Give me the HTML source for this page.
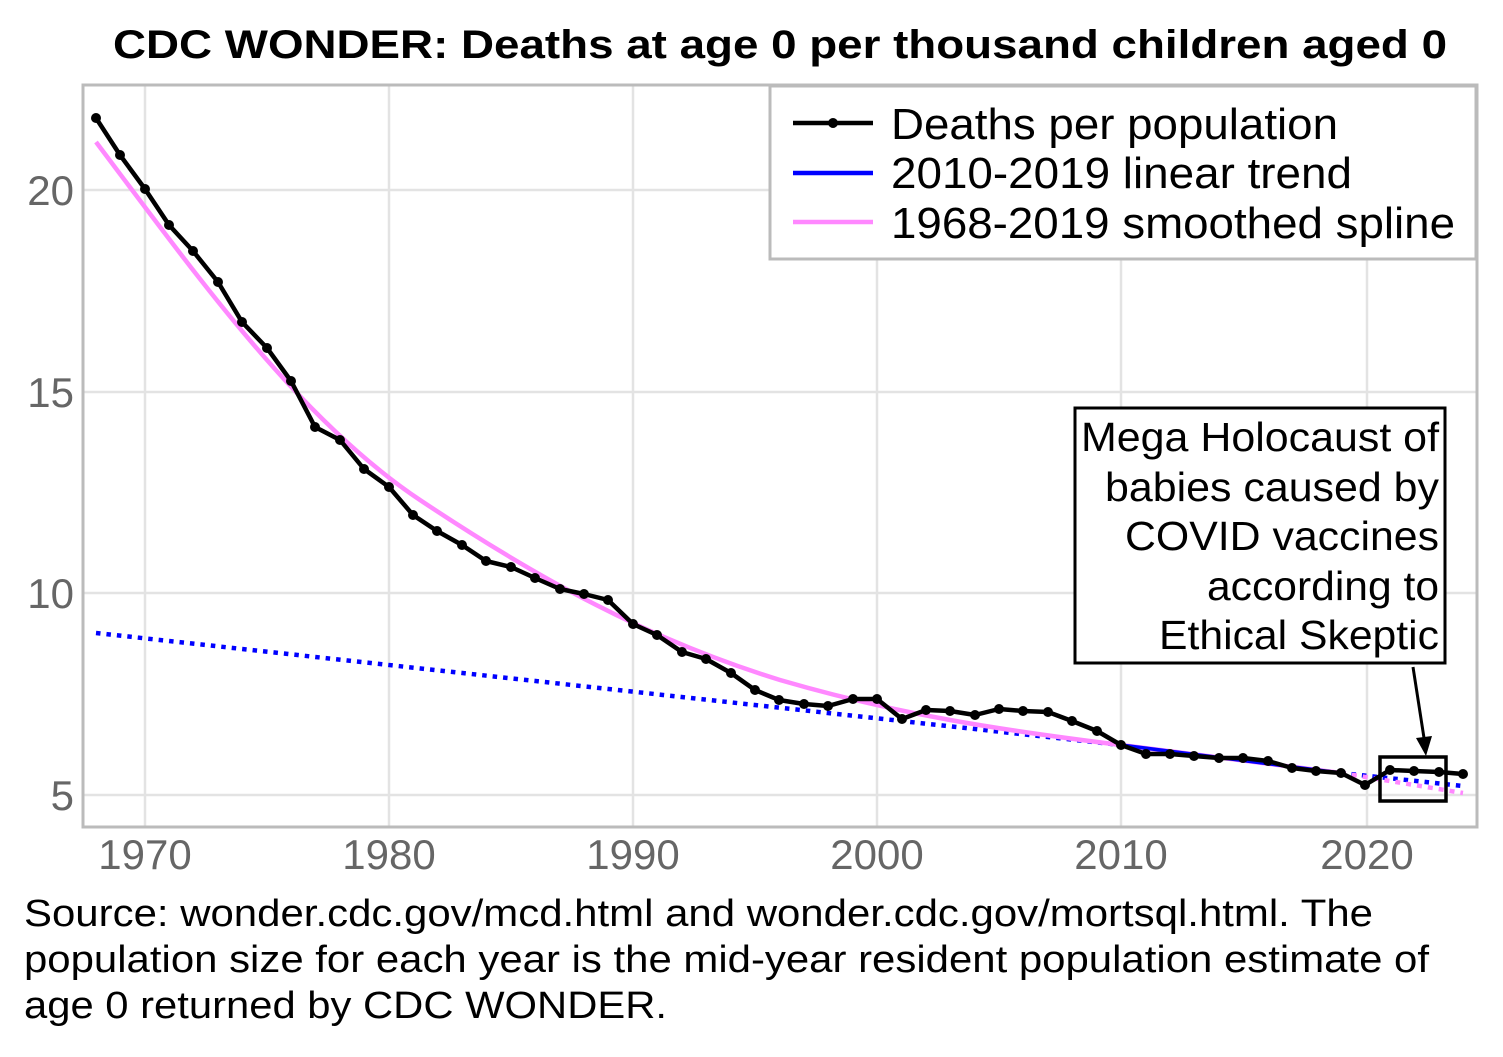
<!DOCTYPE html><html><head><style>body{margin:0;background:#fff}svg text{font-family:"Liberation Sans",Arial,sans-serif}</style></head><body>
<svg width="1503" height="1052" xmlns="http://www.w3.org/2000/svg">
<rect width="1503" height="1052" fill="#fff"/>
<text x="113" y="58" font-size="40" font-weight="bold" textLength="1334" lengthAdjust="spacingAndGlyphs">CDC WONDER: Deaths at age 0 per thousand children aged 0</text>
<g stroke="#e3e3e3" stroke-width="2.5">
<line x1="145" y1="85" x2="145" y2="827"/><line x1="389" y1="85" x2="389" y2="827"/><line x1="633" y1="85" x2="633" y2="827"/><line x1="877" y1="85" x2="877" y2="827"/><line x1="1121" y1="85" x2="1121" y2="827"/><line x1="1367" y1="85" x2="1367" y2="827"/>
<line x1="83" y1="190" x2="1477" y2="190"/><line x1="83" y1="392" x2="1477" y2="392"/><line x1="83" y1="593" x2="1477" y2="593"/><line x1="83" y1="795" x2="1477" y2="795"/>
</g>
<g font-size="42" fill="#666">
<text x="74" y="205" text-anchor="end">20</text><text x="74" y="407" text-anchor="end">15</text><text x="74" y="608" text-anchor="end">10</text><text x="74" y="810" text-anchor="end">5</text>
<text x="145" y="869" text-anchor="middle">1970</text><text x="389" y="869" text-anchor="middle">1980</text><text x="633" y="869" text-anchor="middle">1990</text><text x="877" y="869" text-anchor="middle">2000</text><text x="1121" y="869" text-anchor="middle">2010</text><text x="1367" y="869" text-anchor="middle">2020</text>
</g>
<polyline points="96,633 1121,745" fill="none" stroke="#0000ff" stroke-width="4.5" stroke-dasharray="4.5,6"/>
<polyline points="1341,773 1463,786" fill="none" stroke="#0000ff" stroke-width="4.5" stroke-dasharray="4.5,6"/>
<path d="M96,142 C200,280 300,420 420,500 C540,580 650,640 780,680 C900,715 1000,730 1121,745 L1341,773" fill="none" stroke="#ff88ff" stroke-width="4.5"/>
<line x1="1121" y1="745" x2="1341" y2="773" stroke="#0000ff" stroke-width="3.5"/>
<line x1="1341" y1="773" x2="1463" y2="793" stroke="#ff88ff" stroke-width="4.5" stroke-dasharray="5,6"/>
<polyline fill="none" stroke="#000" stroke-width="4.5" stroke-linejoin="round" points="96,118 120,155 145,189 169,225 193,251 218,282 242,322 267,348 291,381 315,427 340,440 364,469 389,487 413,515 437,531 462,545 486,561 511,567 535,578 560,589 584,594 608,600 633,624 657,635 682,652 706,659 731,673 755,690 779,700 804,704 828,706 853,699 877,699 902,719 926,710 950,711 975,715 999,709 1023,711 1048,712 1072,721 1097,731 1121,745 1146,754 1170,754 1194,756 1219,758 1243,758 1268,761 1292,768 1316,771 1341,773 1365,785 1390,770 1414,771 1439,772 1463,774"/>
<g fill="#000">
<circle cx="96" cy="118" r="5"/><circle cx="120" cy="155" r="5"/><circle cx="145" cy="189" r="5"/><circle cx="169" cy="225" r="5"/><circle cx="193" cy="251" r="5"/><circle cx="218" cy="282" r="5"/><circle cx="242" cy="322" r="5"/><circle cx="267" cy="348" r="5"/><circle cx="291" cy="381" r="5"/><circle cx="315" cy="427" r="5"/><circle cx="340" cy="440" r="5"/><circle cx="364" cy="469" r="5"/><circle cx="389" cy="487" r="5"/><circle cx="413" cy="515" r="5"/><circle cx="437" cy="531" r="5"/><circle cx="462" cy="545" r="5"/><circle cx="486" cy="561" r="5"/><circle cx="511" cy="567" r="5"/><circle cx="535" cy="578" r="5"/><circle cx="560" cy="589" r="5"/><circle cx="584" cy="594" r="5"/><circle cx="608" cy="600" r="5"/><circle cx="633" cy="624" r="5"/><circle cx="657" cy="635" r="5"/><circle cx="682" cy="652" r="5"/><circle cx="706" cy="659" r="5"/><circle cx="731" cy="673" r="5"/><circle cx="755" cy="690" r="5"/><circle cx="779" cy="700" r="5"/><circle cx="804" cy="704" r="5"/><circle cx="828" cy="706" r="5"/><circle cx="853" cy="699" r="5"/><circle cx="877" cy="699" r="5"/><circle cx="902" cy="719" r="5"/><circle cx="926" cy="710" r="5"/><circle cx="950" cy="711" r="5"/><circle cx="975" cy="715" r="5"/><circle cx="999" cy="709" r="5"/><circle cx="1023" cy="711" r="5"/><circle cx="1048" cy="712" r="5"/><circle cx="1072" cy="721" r="5"/><circle cx="1097" cy="731" r="5"/><circle cx="1121" cy="745" r="5"/><circle cx="1146" cy="754" r="5"/><circle cx="1170" cy="754" r="5"/><circle cx="1194" cy="756" r="5"/><circle cx="1219" cy="758" r="5"/><circle cx="1243" cy="758" r="5"/><circle cx="1268" cy="761" r="5"/><circle cx="1292" cy="768" r="5"/><circle cx="1316" cy="771" r="5"/><circle cx="1341" cy="773" r="5"/><circle cx="1365" cy="785" r="5"/><circle cx="1390" cy="770" r="5"/><circle cx="1414" cy="771" r="5"/><circle cx="1439" cy="772" r="5"/><circle cx="1463" cy="774" r="5"/>
</g>
<rect x="1380" y="757" width="66" height="44" fill="none" stroke="#000" stroke-width="3.5"/>
<line x1="1413" y1="667" x2="1424" y2="738" stroke="#000" stroke-width="3"/>
<polygon points="1416,738 1432,736 1426,756" fill="#000"/>
<rect x="1075" y="408" width="370" height="255" fill="#fff" stroke="#000" stroke-width="3"/>
<g font-size="41" text-anchor="end">
<text x="1439" y="451" textLength="358" lengthAdjust="spacingAndGlyphs">Mega Holocaust of</text><text x="1439" y="501" textLength="334" lengthAdjust="spacingAndGlyphs">babies caused by</text><text x="1439" y="550" textLength="314" lengthAdjust="spacingAndGlyphs">COVID vaccines</text><text x="1439" y="600" textLength="232" lengthAdjust="spacingAndGlyphs">according to</text><text x="1439" y="649" textLength="280" lengthAdjust="spacingAndGlyphs">Ethical Skeptic</text>
</g>
<rect x="83" y="85" width="1394" height="742" fill="none" stroke="#bbb" stroke-width="3"/>
<rect x="770" y="86" width="706" height="173" fill="#fff" stroke="#bbb" stroke-width="3"/>
<line x1="793" y1="123" x2="873" y2="123" stroke="#000" stroke-width="4.5"/><circle cx="833" cy="123" r="5"/>
<line x1="793" y1="173" x2="873" y2="173" stroke="#0000ff" stroke-width="4.5"/>
<line x1="793" y1="222" x2="873" y2="222" stroke="#ff88ff" stroke-width="4.5"/>
<g font-size="44"><text x="891" y="139" textLength="447" lengthAdjust="spacingAndGlyphs">Deaths per population</text><text x="891" y="188" textLength="461" lengthAdjust="spacingAndGlyphs">2010-2019 linear trend</text><text x="891" y="238" textLength="564" lengthAdjust="spacingAndGlyphs">1968-2019 smoothed spline</text></g>
<g font-size="38"><text x="24" y="926" textLength="1349" lengthAdjust="spacingAndGlyphs">Source: wonder.cdc.gov/mcd.html and wonder.cdc.gov/mortsql.html. The</text><text x="24" y="972" textLength="1405" lengthAdjust="spacingAndGlyphs">population size for each year is the mid-year resident population estimate of</text><text x="24" y="1018" textLength="643" lengthAdjust="spacingAndGlyphs">age 0 returned by CDC WONDER.</text></g>
</svg></body></html>
